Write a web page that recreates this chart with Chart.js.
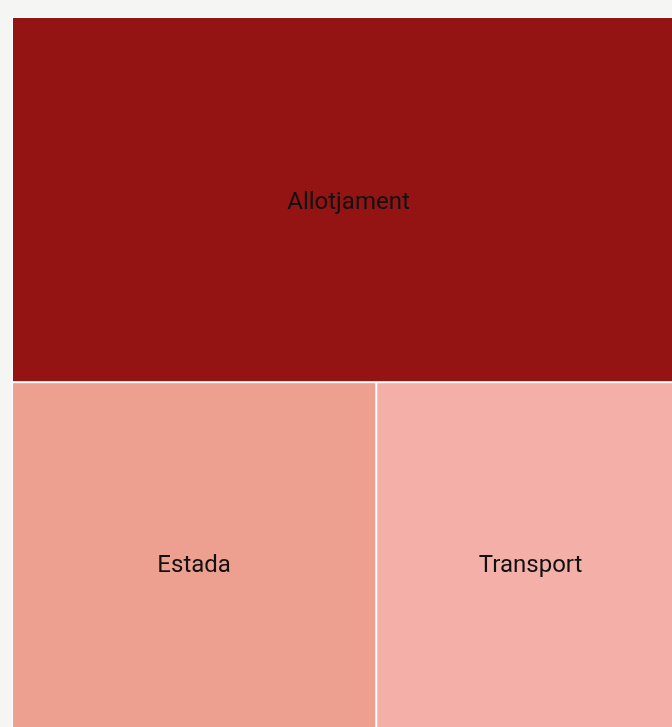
<!DOCTYPE html>
<html>
<head>
<meta charset="utf-8">
<script src="https://cdn.jsdelivr.net/npm/chart.js@4.4.1/dist/chart.umd.min.js"></script>
<style>
  html, body { margin: 0; padding: 0; background: #f5f5f3; overflow: hidden; }
  #wrap { width: 685px; height: 743px; }
</style>
</head>
<body>
<div id="wrap"><canvas id="treemap"></canvas></div>
<script>
// dades del treemap
var categories = ["Allotjament", "Estada", "Transport"];
var valors = [50.3, 26.9, 22.8];
var colors = ["#941414", "#eea090", "#f4b0a8"];

// squarify senzill, mides relatives de l'area del grafic
var W = 673, H = 726;
function squarify(vals) {
    var total = vals.reduce(function (a, b) { return a + b; }, 0);
    var rects = [];
    var rest = vals.map(function (v, i) { return { v: v, i: i, a: v / total * W * H }; });
    function worst(row, side) {
        var s = row.reduce(function (a, r) { return a + r.a; }, 0);
        var mx = 0;
        row.forEach(function (r) {
            var len = r.a / s * side, th = s / side;
            var q = Math.max(len / th, th / len);
            if (q > mx) mx = q;
        });
        return mx;
    }
    var bx = 0, by = 0, bw = W, bh = H;
    while (rest.length) {
        var side = Math.min(bw, bh);
        var row = [rest[0]];
        var k = 1;
        while (k < rest.length && worst(row.concat([rest[k]]), side) <= worst(row, side)) {
            row.push(rest[k]); k++;
        }
        rest = rest.slice(k);
        var s = row.reduce(function (a, r) { return a + r.a; }, 0);
        var th = s / side, off = 0;
        row.forEach(function (r) {
            var len = r.a / s * side;
            if (bw <= bh) rects[r.i] = { x0: bx + off, y0: by, x1: bx + off + len, y1: by + th };
            else rects[r.i] = { x0: bx, y0: by + off, x1: bx + th, y1: by + off + len };
            off += len;
        });
        if (bw <= bh) { by += th; bh -= th; } else { bx += th; bw -= th; }
    }
    return rects.map(function (r) {
        return { x0: r.x0 / W, y0: r.y0 / H, x1: r.x1 / W, y1: r.y1 / H };
    });
}
var caixes = squarify(valors);

var pintaCaixes = {
    id: "pintaCaixes",
    beforeDatasetsDraw: function (chart) {
        var ctx = chart.ctx, sx = chart.scales.x, sy = chart.scales.y;
        ctx.save();
        ctx.fillStyle = "#ffffff";
        ctx.fillRect(sx.getPixelForValue(0), sy.getPixelForValue(0),
            sx.getPixelForValue(1) - sx.getPixelForValue(0), sy.getPixelForValue(1) - sy.getPixelForValue(0));
        caixes.forEach(function (c, i) {
            var x0 = sx.getPixelForValue(c.x0), x1 = sx.getPixelForValue(c.x1);
            var y0 = sy.getPixelForValue(c.y0), y1 = sy.getPixelForValue(c.y1);
            ctx.fillStyle = colors[i];
            ctx.fillRect(x0 + 1, y0 + 1, x1 - x0 - 2, y1 - y0 - 2);
            ctx.fillStyle = "#111111";
            ctx.font = "24px Roboto";
            ctx.textAlign = "center";
            ctx.textBaseline = "middle";
            ctx.fillText(categories[i], (x0 + x1) / 2, (y0 + y1) / 2 + 3);
        });
        ctx.restore();
    }
};

new Chart(document.getElementById("treemap"), {
    type: "scatter",
    data: {
        datasets: categories.map(function (c, i) {
            return {
                label: c,
                data: [{ x: (caixes[i].x0 + caixes[i].x1) / 2, y: (caixes[i].y0 + caixes[i].y1) / 2, v: valors[i] }],
                pointRadius: 0
            };
        })
    },
    options: {
        responsive: true,
        maintainAspectRatio: false,
        animation: false,
        layout: { padding: { left: 12, top: 17, right: 0, bottom: 0 } },
        scales: {
            x: { type: "linear", min: 0, max: 1, display: false },
            y: { type: "linear", min: 0, max: 1, reverse: true, display: false }
        },
        plugins: { legend: { display: false }, tooltip: { enabled: false } }
    },
    plugins: [pintaCaixes]
});
</script>
</body>
</html>
